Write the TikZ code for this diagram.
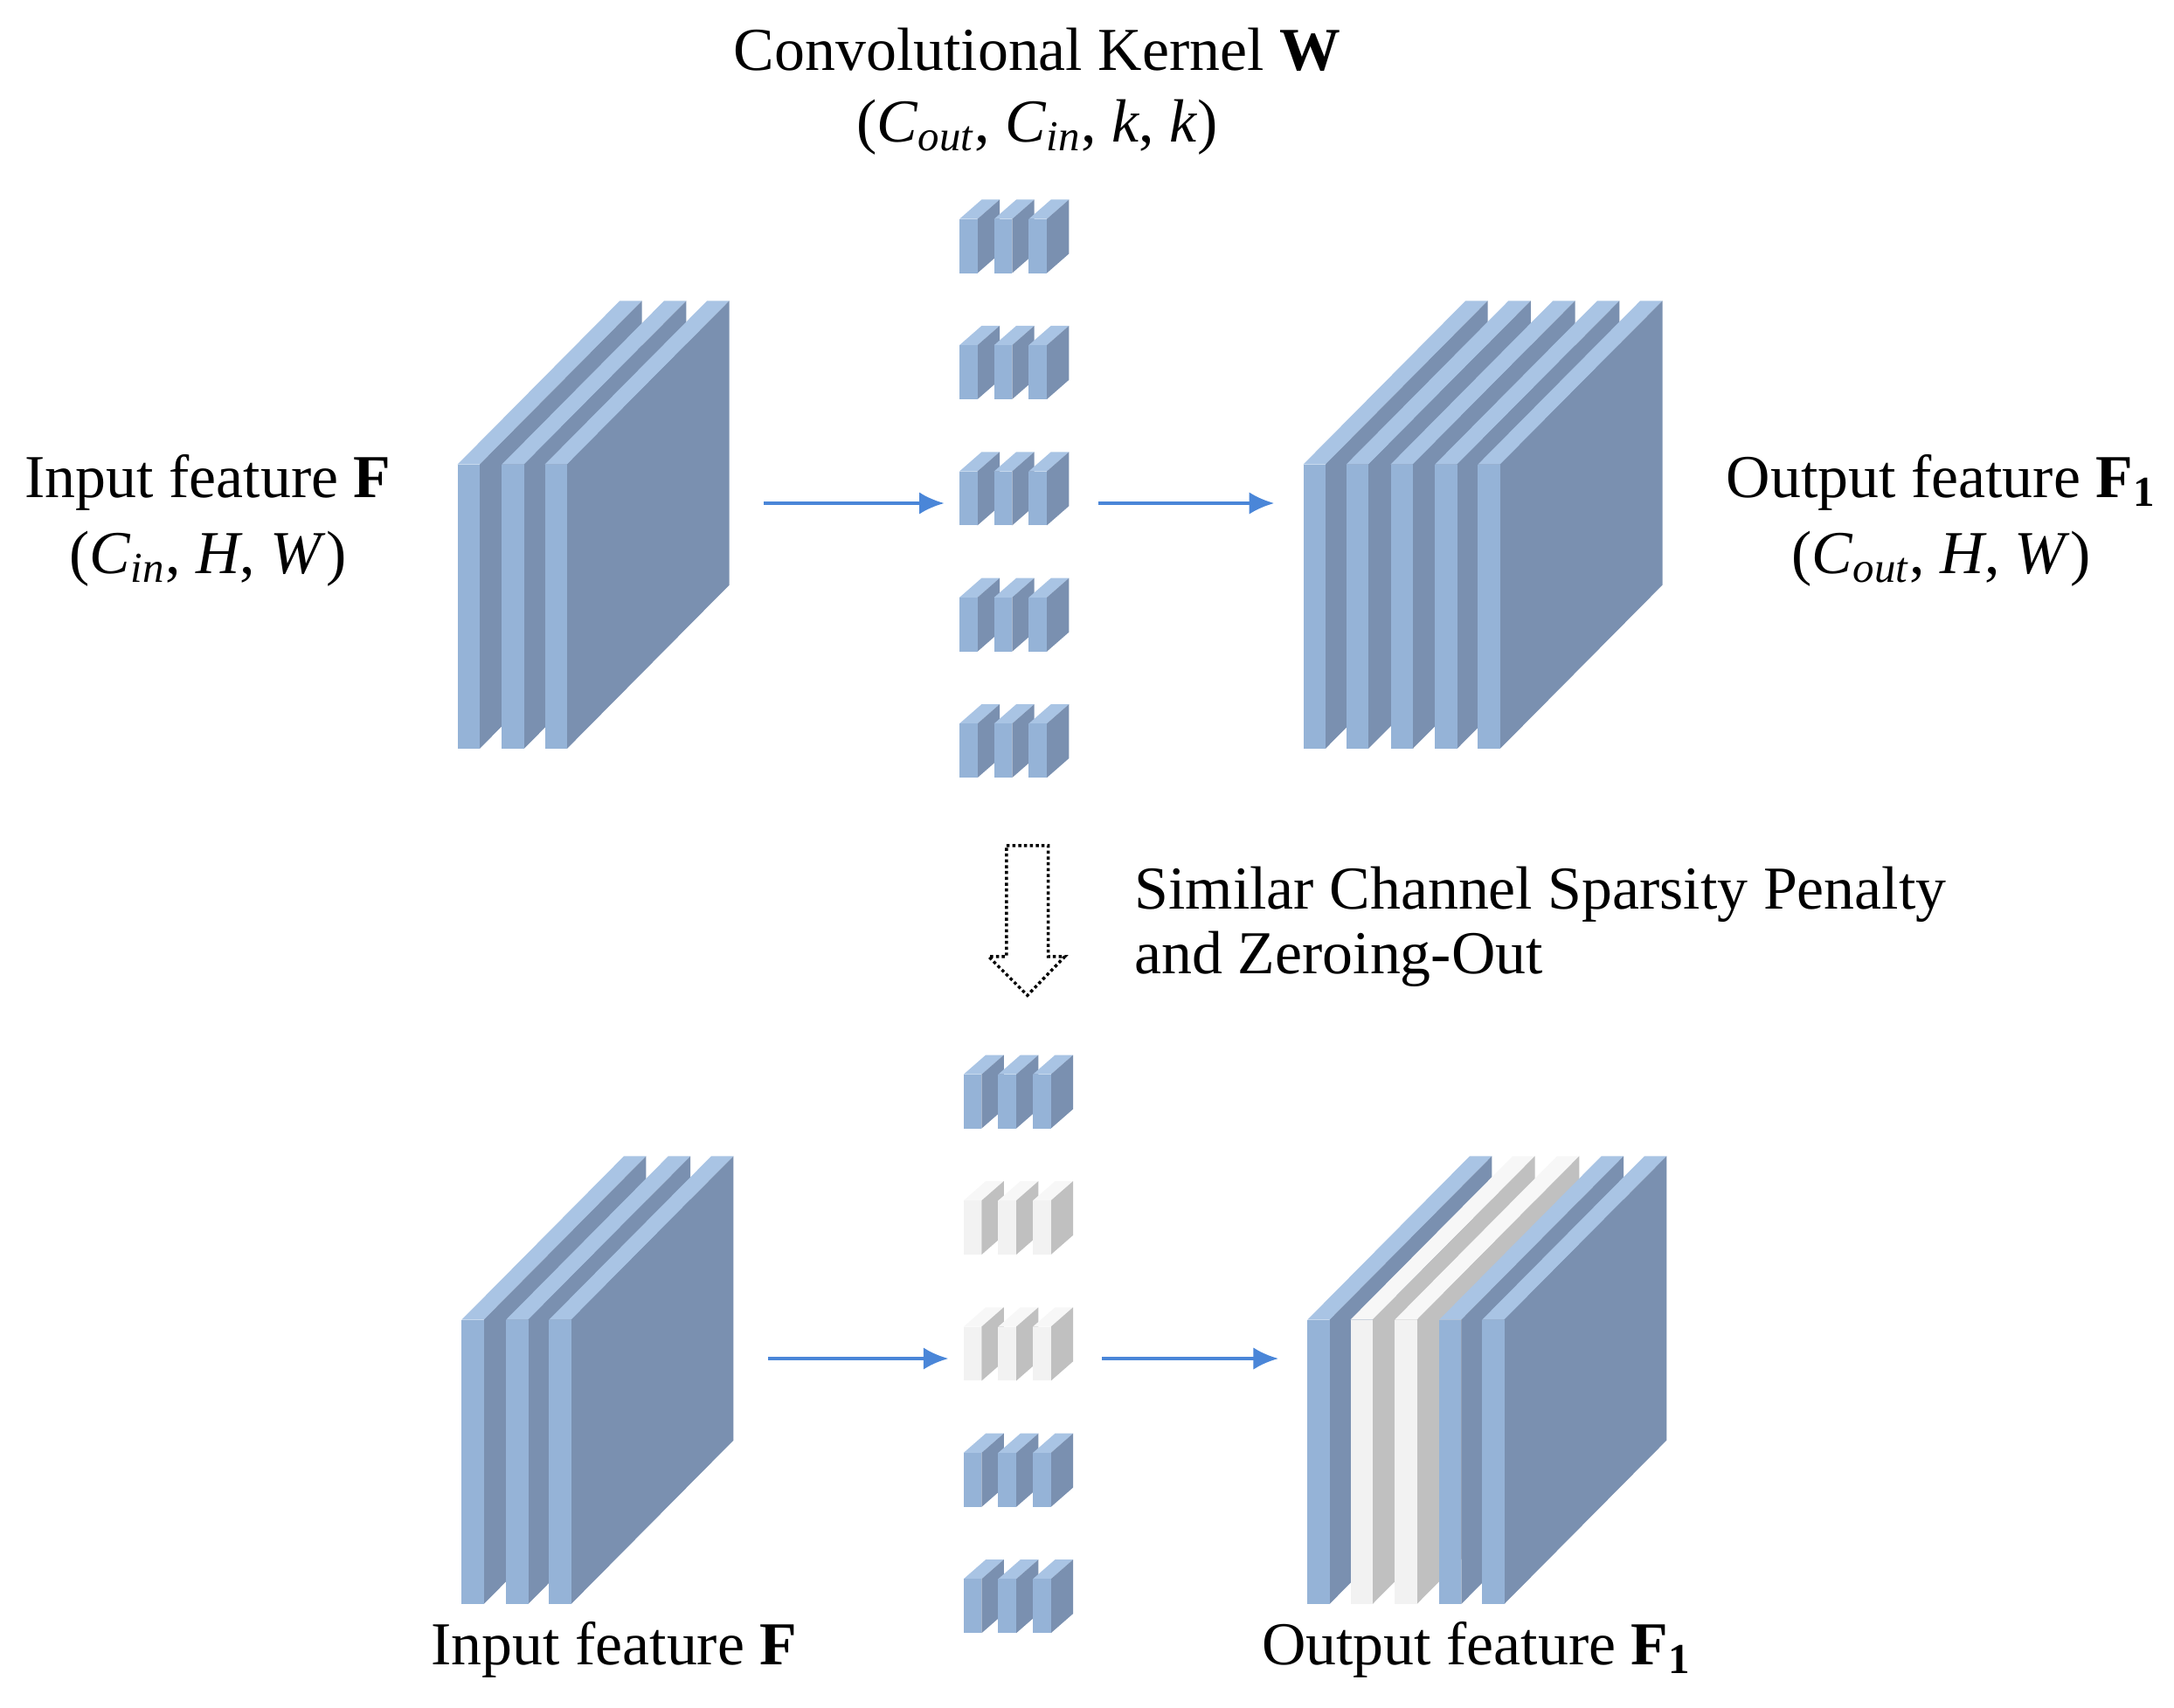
\documentclass[tikz,border=0pt]{standalone}
\usepackage{fontspec}
\setmainfont{Liberation Serif}
\usetikzlibrary{arrows.meta}
\definecolor{bfront}{HTML}{95B3D7}
\definecolor{btop}{HTML}{A9C4E4}
\definecolor{bside}{HTML}{7A90B0}
\definecolor{gfront}{HTML}{F2F2F2}
\definecolor{gtop}{HTML}{F7F7F7}
\definecolor{gside}{HTML}{C0C0C0}
\definecolor{arr}{HTML}{4A86D8}
\newcommand\myslab[7]{%
  \fill[#7top] (#1,#2) -- ++(#3,0) -- ++(#4,-#5) -- ++(-#3,0) -- cycle;
  \fill[#7side] (#1+#3,#2) -- ++(#4,-#5) -- ++(0,#6) -- ++(-#4,#5) -- cycle;
  \fill[#7front] (#1,#2) rectangle ++(#3,#6);}
\newcommand\bigslab[3]{\myslab{#1}{#2}{16}{117}{118}{205}{#3}}
\newcommand\mykern[3]{\myslab{#1}{#2}{13}{16}{14}{39}{#3}\myslab{#1+25}{#2}{13}{16}{14}{39}{#3}\myslab{#1+50}{#2}{13}{16}{14}{39}{#3}}
\tikzset{lbl/.style={font=\fontsize{22}{26}\selectfont, inner sep=0pt},
  conn/.style={draw=arr, line width=1.2pt, -{Latex[length=9pt,width=8pt]}}}
\begin{document}
\begin{tikzpicture}[x=0.5pt,y=-0.5pt]
\useasboundingbox (0,0) rectangle (1568,1232);
% top row
\foreach \x in {330,362,393} {\bigslab{\x}{335}{b}}
\foreach \y in {158,249,340,431,522} {\mykern{692}{\y}{b}}
\foreach \x in {940,971,1003,1035,1066} {\bigslab{\x}{335}{b}}
% bottom row
\foreach \x in {333,365,396} {\bigslab{\x}{952}{b}}
\mykern{695}{775}{b}
\mykern{695}{866}{g}
\mykern{695}{957}{g}
\mykern{695}{1048}{b}
\mykern{695}{1139}{b}
\bigslab{943}{952}{b}
\bigslab{974}{952}{g}
\bigslab{1006}{952}{g}
\bigslab{1038}{952}{b}
\bigslab{1069}{952}{b}
% arrows
\coordinate (a1) at (551,363); \coordinate (a2) at (681,363);
\coordinate (a3) at (792,363); \coordinate (a4) at (919,363);
\coordinate (b1) at (554,980); \coordinate (b2) at (684,980);
\coordinate (b3) at (795,980); \coordinate (b4) at (922,980);
\draw[conn] (a1) -- (a2);
\draw[conn] (a3) -- (a4);
\draw[conn] (b1) -- (b2);
\draw[conn] (b3) -- (b4);
\draw[densely dotted, line width=1.1pt] (726,610) -- (756,610) -- (756,690) -- (768,690) -- (741,718) -- (713,690) -- (726,690) -- cycle;
% labels
\node[lbl] (t1) at (748,36) {Convolutional Kernel \textbf{W}};
\node[lbl] (t2) at (748,92) {(\textit{C}\textsubscript{\textit{out}}, \textit{C}\textsubscript{\textit{in}}, \textit{k}, \textit{k})};
\node[lbl] (i1) at (150,348) {Input feature \textbf{F}};
\node[lbl] (i2) at (150,403) {(\textit{C}\textsubscript{\textit{in}}, \textit{H}, \textit{W})};
\node[lbl] (o1) at (1400,348) {Output feature \textbf{F}\textsubscript{\textbf{1}}};
\node[lbl] (o2) at (1400,403) {(\textit{C}\textsubscript{\textit{out}}, \textit{H}, \textit{W})};
\node[lbl, anchor=west] (s1) at (818,645) {Similar Channel Sparsity Penalty};
\node[lbl, anchor=west] (s2) at (818,692) {and Zeroing-Out};
\node[lbl] (i3) at (443,1190) {Input feature \textbf{F}};
\node[lbl] (o3) at (1065,1190) {Output feature \textbf{F}\textsubscript{\textbf{1}}};
\end{tikzpicture}
\end{document}
